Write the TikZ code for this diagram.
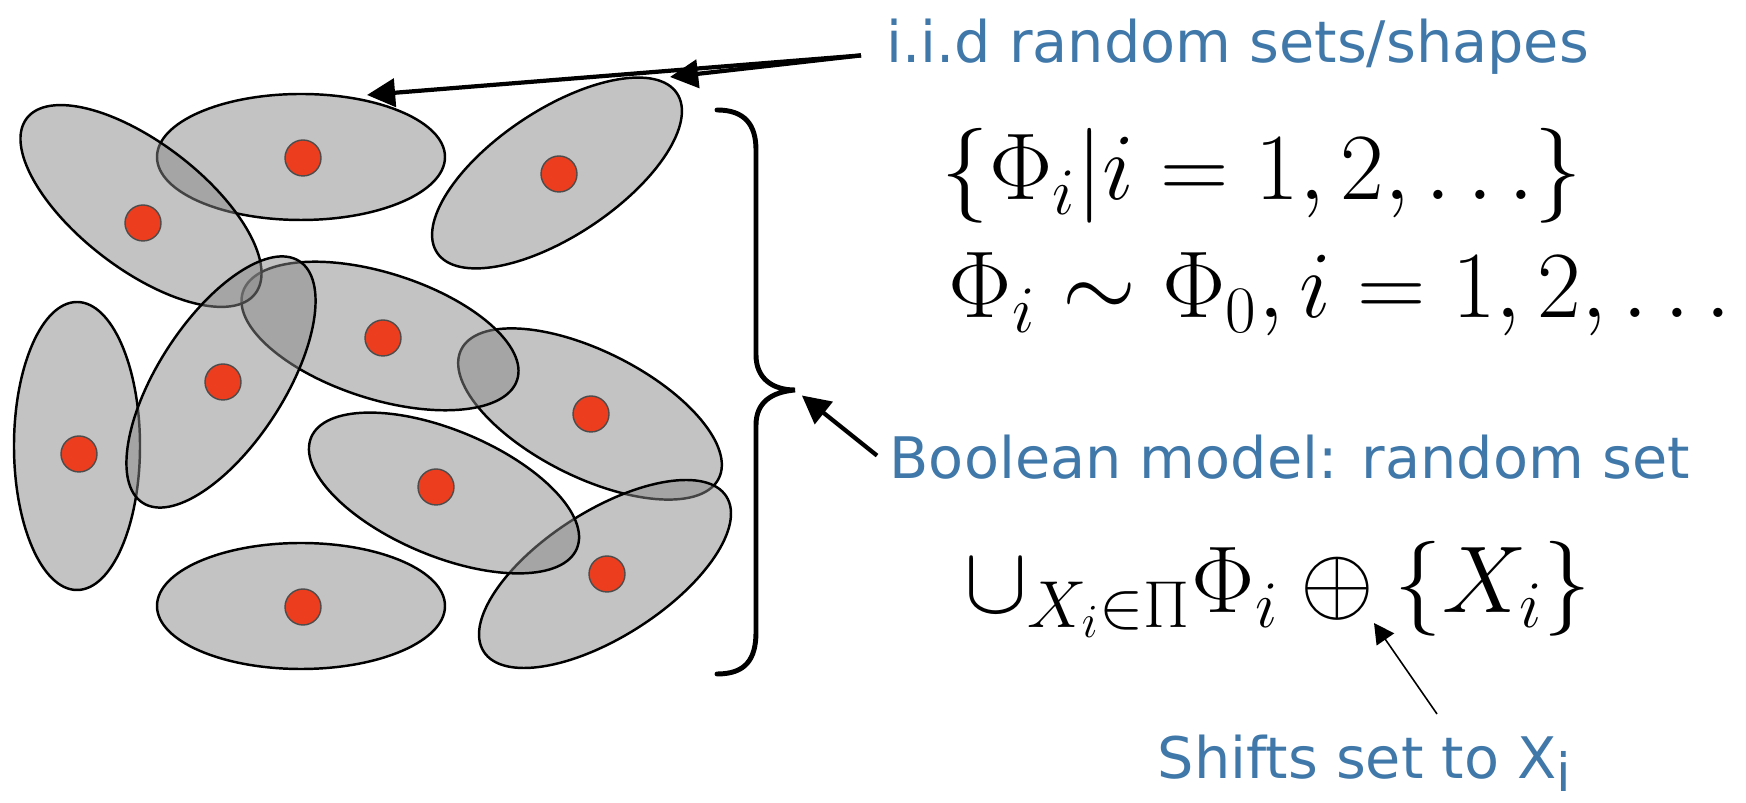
\RequirePackage{fix-cm}
\documentclass[tikz,border=0pt]{standalone}
\usepackage{fontspec}
\usetikzlibrary{arrows.meta}
\newfontfamily\handfont{DejaVu Sans}
\definecolor{handblue}{RGB}{64,120,170}
\definecolor{seedred}{RGB}{236,62,30}
\definecolor{blobgray}{RGB}{135,135,135}

\begin{document}
\begin{tikzpicture}[x=0.1mm, y=-0.1mm,
    blob/.style={draw=black, line width=0.7pt, fill=blobgray, fill opacity=0.5},
    seed/.style={draw=black!70, line width=0.4pt, fill=seedred},
    note/.style={font=\handfont\fontsize{16.3}{19}\selectfont, text=handblue, anchor=base west, inner sep=0pt},
    formula/.style={font=\fontsize{27}{32}\selectfont, anchor=base west, inner sep=0pt},
    bigarrow/.style={-{Triangle[length=8pt, width=8pt]}, line width=1.2pt},
    pointer/.style={-{Triangle[length=5.7pt, width=6pt]}, line width=0.45pt}]
    \useasboundingbox (0,0) rectangle (1746,803);

    % Conjuntos aleatorios (elipses)
    \foreach \cx/\cy/\ang in {301/157/0, 590/414/-26.6, 380/336/-17.7, 141/206/-37.5,
        77/446/90, 221/382/57, 605/574/32.6, 444/493/-22.7, 557/173/33.6, 301/606/0}
        \draw[blob, rotate around={\ang:(\cx,\cy)}] (\cx,\cy) ellipse [x radius=144, y radius=63];

    % Puntos del proceso
    \foreach \dx/\dy in {143/223, 303/158, 559/174, 79/454, 223/382, 383/338,
        591/414, 436/487, 607/574, 303/607}
        \draw[seed] (\dx,\dy) circle [radius=18];

    % Llave
    \coordinate (bracetip) at (795,390);
    \draw[line width=1.4pt, line cap=round] (717,110) .. controls (745,110) and (756,125) .. (756,150)
        -- (756,355) .. controls (756,378) and (772,390) .. (bracetip)
        .. controls (772,392) and (756,402) .. (756,425)
        -- (756,632) .. controls (756,660) and (745,674) .. (717,674);

    % Textos
    \node[note, inner xsep=7pt] (iid) at (861,63) {i.i.d random sets/shapes};
    \node[note, inner xsep=3.4pt] (bool) at (877,479) {Boolean model: random set};
    \node[note] (shift) at (1157,779) {Shifts set to X\raisebox{-3.5pt}{\fontsize{15}{17}\selectfont i}};

    % Formulas
    \node[formula] (phiset) at (941,200) {$\{\Phi_i|i=1,2,\ldots\}$};
    \node[formula] (phidist) at (948,318) {$\Phi_i\sim\Phi_0,i=1,2,\ldots$};
    \node[formula] (union) at (964,613) {$\cup_{X_i\in\Pi}\Phi_i\oplus\{X_i\}$};

    % Flechas
    \coordinate (tipA) at (367,95);
    \coordinate (tipB) at (670,77);
    \coordinate (oplusbot) at (1374,623);
    \coordinate (shiftfrom) at (1437,714);
    \draw[bigarrow] (iid.mid west) -- (tipA);
    \draw[bigarrow] (iid.mid west) -- (tipB);
    \draw[bigarrow, shorten >=2.5pt] ([yshift=4.5pt]bool.mid west) -- (bracetip);
    \draw[pointer] (shiftfrom) -- (oplusbot);
\end{tikzpicture}
\end{document}
